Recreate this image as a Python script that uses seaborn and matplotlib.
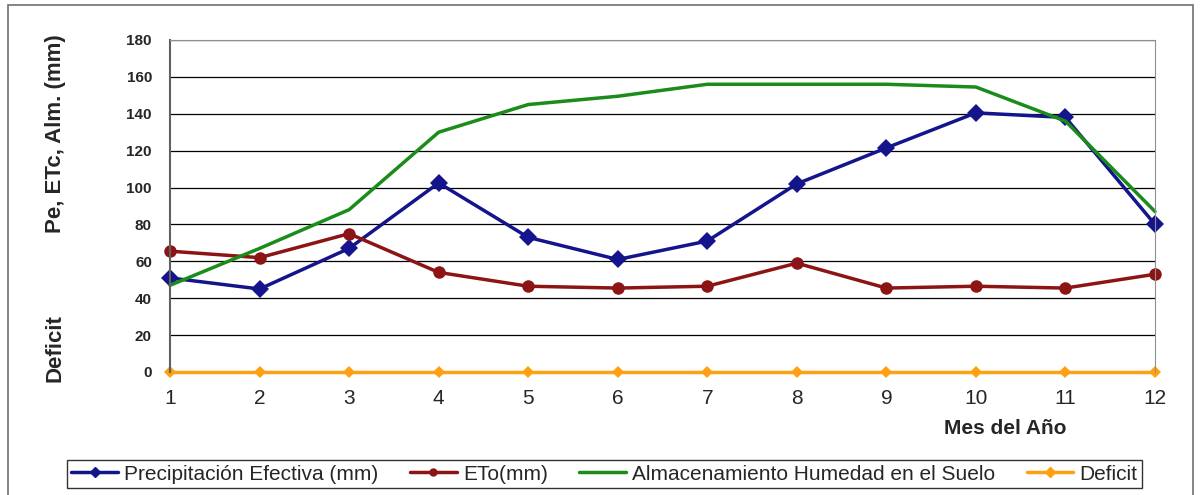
import numpy as np
import pandas as pd
import matplotlib
matplotlib.use('Agg')
import matplotlib.pyplot as plt
import seaborn as sns
from matplotlib.patches import Rectangle

# datos
meses = list(range(1, 13))
precipitacion = [51, 45, 67, 102.5, 73, 61, 71, 102, 121.5, 140.5, 138, 80]
eto = [65.5, 62, 75, 54, 46.5, 45.5, 46.5, 59, 45.5, 46.5, 45.5, 53]
almacenamiento = [47, 67, 88, 130, 145, 149.5, 156, 156, 156, 154.5, 136, 87]
deficit = [0] * 12

series = ['Precipitación Efectiva (mm)', 'ETo(mm)',
          'Almacenamiento Humedad en el Suelo', 'Deficit']
colores = ['#14148c', '#8c1414', '#1a8c1a', '#ffa010']
marcadores = ['D', 'o', None, 'D']
tam_marcador = [9, 9, 0, 6]

df = pd.DataFrame({'mes': meses, series[0]: precipitacion, series[1]: eto,
                   series[2]: almacenamiento, series[3]: deficit})

sns.set_style('white')
plt.rcParams['font.family'] = ['Liberation Sans', 'DejaVu Sans']

fig = plt.figure(figsize=(12.04, 4.95), dpi=100)
ax = fig.add_axes([0.1412, 0.2485, 0.8181, 0.6707])

for s, c, m, ms in zip(series, colores, marcadores, tam_marcador):
    sns.lineplot(data=df, x='mes', y=s, color=c, marker=m, markersize=ms,
                 markeredgewidth=0, linewidth=2.5, ax=ax, clip_on=False)

ax.set_xlim(1, 12)
ax.set_ylim(0, 180)
ax.set_xticks(meses)
ax.set_yticks(range(0, 181, 20))
ax.tick_params(axis='x', labelsize=15, length=4, direction='out', pad=8, color='#808080')
ax.tick_params(axis='y', labelsize=11, length=5, direction='out', pad=8, color='#404040')
for t in ax.get_yticklabels():
    t.set_fontweight('bold')
ax.yaxis.grid(True, color='black', linewidth=0.9)
ax.set_axisbelow(True)
for s in ['top', 'right']:
    ax.spines[s].set_color('#909090')
ax.spines['left'].set_color('#606060')
ax.spines['left'].set_linewidth(1.5)
ax.spines['bottom'].set_visible(False)
ax.set_xlabel('')
ax.set_ylabel('')

fig.text(0.046, 0.73, 'Pe, ETc, Alm. (mm)', rotation=90, ha='center', va='center',
         fontsize=16, fontweight='bold')
fig.text(0.046, 0.297, 'Deficit', rotation=90, ha='center', va='center',
         fontsize=16, fontweight='bold')
fig.text(0.835, 0.135, 'Mes del Año', ha='center', va='center',
         fontsize=15, fontweight='bold')

handles = [plt.Line2D([], [], color=c, linewidth=2.5, marker=m, markersize=5)
           for c, m in zip(colores, marcadores)]
leg = fig.legend(handles, series, loc='center', bbox_to_anchor=(0.502, 0.0424),
                 ncol=4, fontsize=15, frameon=True, fancybox=False,
                 edgecolor='black', handlelength=2.25, columnspacing=1.5,
                 handletextpad=0.3, borderpad=0.2, borderaxespad=0)
leg.get_frame().set_linewidth(1.0)

fig.patches.append(Rectangle((0.007, -0.02), 0.984, 1.01, transform=fig.transFigure,
                             fill=False, edgecolor='#707070', linewidth=1.2))

fig.savefig('out.png', dpi=100)
